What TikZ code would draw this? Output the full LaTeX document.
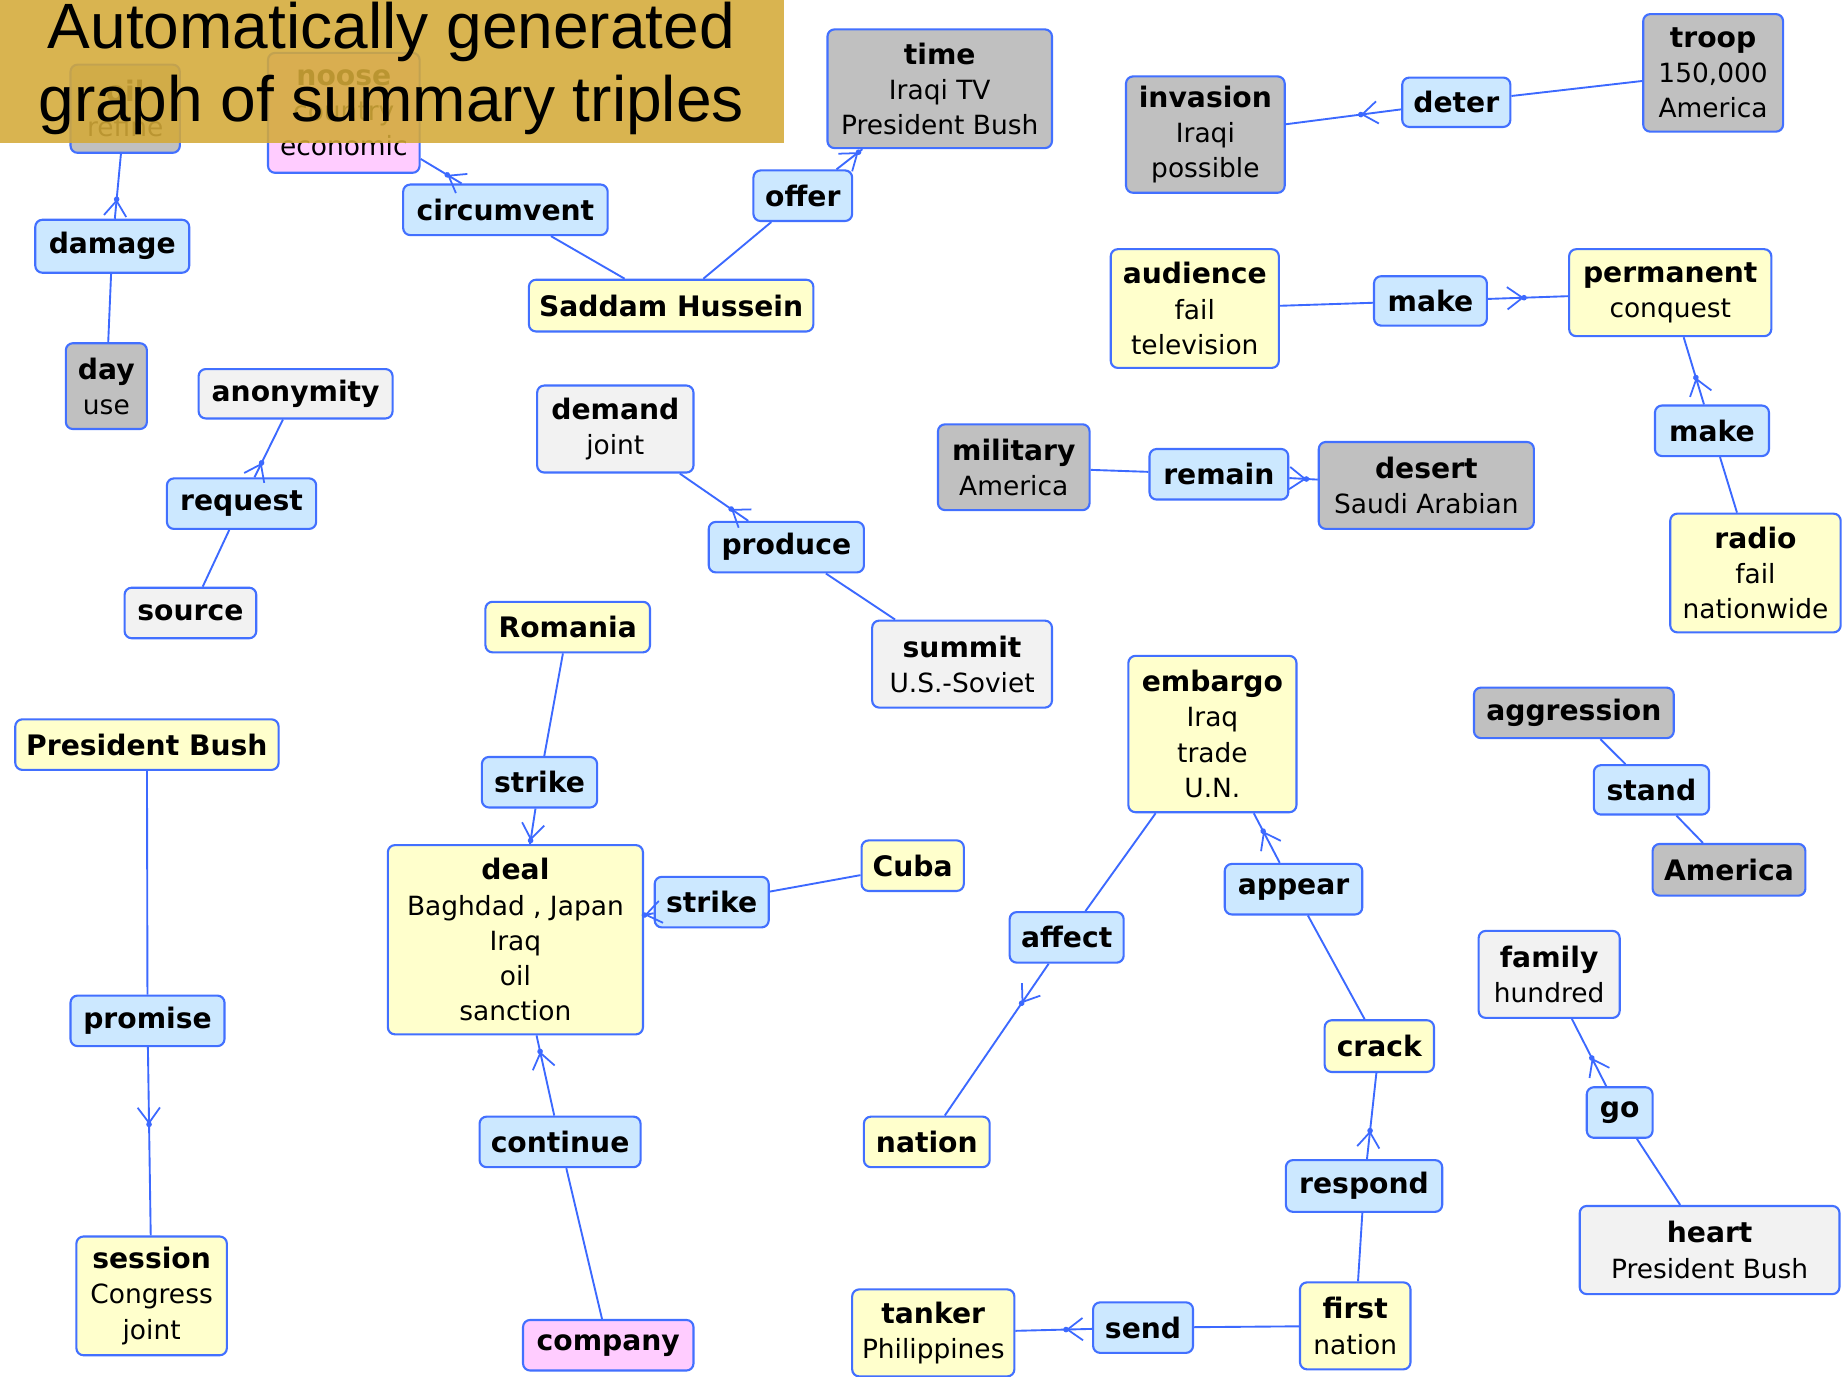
\documentclass[tikz,border=0pt]{standalone}
\usepackage{fontspec}
\setmainfont{DejaVu Sans}
\newfontfamily\titlefont{Liberation Sans}
\usetikzlibrary{arrows.meta,decorations.markings}

\definecolor{edgeblue}{RGB}{66,112,255}
\definecolor{linkblue}{RGB}{60,105,255}
\definecolor{predfill}{RGB}{204,232,255}
\definecolor{yellowfill}{RGB}{255,255,204}
\definecolor{grayfill}{RGB}{192,192,192}
\definecolor{lightfill}{RGB}{242,242,242}
\definecolor{pinkfill}{RGB}{255,204,255}
\definecolor{titlegold}{RGB}{212,170,56}

% first (head) line of a node is set bold and slightly larger
\newcommand\hd[1]{{\fontsize{24}{30}\selectfont\bfseries #1}}

\tikzset{
  box/.style={draw=edgeblue, line width=1.8pt, rounded corners=6pt, align=center,
    inner sep=0pt, font=\fontsize{22.5}{30}\selectfont},
  predbox/.style={box, fill=predfill},
  entbox/.style={box, fill=yellowfill},
  greybox/.style={box, fill=grayfill},
  palebox/.style={box, fill=lightfill},
  pinkbox/.style={box, fill=pinkfill},
  sz/.style 2 args={minimum width=#1pt, minimum height=#2pt},
  link/.style={draw=linkblue, line width=1.6pt},
  arrowat/.style={postaction=decorate, decoration={markings,
    mark=at position #1 with {\arrow[linkblue]{Straight Barb[length=13pt,width=19pt,line width=1.5pt]}%
      \fill[linkblue] (0,0) circle (2.4pt);}}}
}

\begin{document}
\begin{tikzpicture}[x=1pt, y=-1pt]
\useasboundingbox (0,0) rectangle (1568,1171);
\fill[white] (0,0) rectangle (1568,1171);

% ---- nodes ----
\node[greybox, sz={93}{75}]   (oil)        at (106.5,92.5)  {\hd{oil}\\refine};
\node[pinkbox, sz={129}{102}] (noose)      at (292.5,96)    {\hd{noose}\\country\\economic};
\node[predbox, sz={131}{45}]  (damage)     at (95.5,209.5)  {\hd{damage}};
\node[greybox, sz={69}{73}]   (day)        at (90.5,328.5)  {\hd{day}\\use};
\node[predbox, sz={174}{43}]  (circumvent) at (430,178.5)   {\hd{circumvent}};
\node[predbox, sz={84}{43}]   (offer)      at (683,166.5)   {\hd{offer}};
\node[greybox, sz={191}{101}] (time)       at (799.5,75.5)  {\hd{time}\\Iraqi TV\\President Bush};
\node[entbox,  sz={242}{44}]  (saddam)     at (571,260)     {\hd{Saddam Hussein}};
\node[greybox, sz={135}{99}]  (invasion)   at (1025.5,114.5){\hd{invasion}\\Iraqi\\possible};
\node[predbox, sz={92}{42}]   (deter)      at (1239,87)     {\hd{deter}};
\node[greybox, sz={119}{100}] (troop)      at (1457.5,62)   {\hd{troop}\\150,000\\America};
\node[entbox,  sz={143}{101}] (audience)   at (1016.5,262.5){\hd{audience}\\fail\\television};
\node[predbox, sz={96}{42}]   (makeA)      at (1217,256)    {\hd{make}};
\node[entbox,  sz={172}{74}]  (permanent)  at (1421,249)    {\hd{permanent}\\conquest};
\node[predbox, sz={97}{43}]   (makeB)      at (1456.5,366.5){\hd{make}};
\node[entbox,  sz={145}{101}] (radio)      at (1493.5,487.5){\hd{radio}\\fail\\nationwide};
\node[palebox, sz={165}{42}]  (anonymity)  at (251.5,335)   {\hd{anonymity}};
\node[predbox, sz={127}{43}]  (request)    at (205.5,428.5) {\hd{request}};
\node[palebox, sz={112}{43}]  (source)     at (162,521.5)   {\hd{source}};
\node[palebox, sz={133}{74}]  (demand)     at (523.5,365)   {\hd{demand}\\joint};
\node[predbox, sz={132}{43}]  (produce)    at (669,465.5)   {\hd{produce}};
\node[palebox, sz={153}{74}]  (summit)     at (818.5,565)   {\hd{summit}\\U.S.-Soviet};
\node[greybox, sz={129}{73}]  (military)   at (862.5,397.5) {\hd{military}\\America};
\node[predbox, sz={118}{43}]  (remain)     at (1037,403.5)  {\hd{remain}};
\node[greybox, sz={183}{74}]  (desert)     at (1213.5,413)  {\hd{desert}\\Saudi Arabian};
\node[entbox,  sz={140}{43}]  (romania)    at (483,533.5)   {\hd{Romania}};
\node[predbox, sz={98}{43}]   (strikeA)    at (459,665.5)   {\hd{strike}};
\node[entbox,  sz={217}{161}] (deal)       at (438.5,799.5) {\hd{deal}\\Baghdad , Japan\\Iraq\\oil\\sanction};
\node[predbox, sz={97}{43}]   (strikeB)    at (605.5,767.5) {\hd{strike}};
\node[entbox,  sz={87}{43}]   (cuba)       at (776.5,736.5) {\hd{Cuba}};
\node[predbox, sz={137}{43}]  (continue)   at (476.5,971.5) {\hd{continue}};
\node[pinkbox, sz={145}{43}]  (company)    at (517.5,1144.5){\hd{company}};
\node[entbox,  sz={224}{43}]  (presbush)   at (125,633.5)   {\hd{President Bush}};
\node[predbox, sz={131}{43}]  (promise)    at (125.5,868.5) {\hd{promise}};
\node[entbox,  sz={128}{101}] (session)    at (129,1102.5)  {\hd{session}\\Congress\\joint};
\node[entbox,  sz={143}{133}] (embargo)    at (1031.5,624.5){\hd{embargo}\\Iraq\\trade\\U.N.};
\node[predbox, sz={97}{43}]   (affect)     at (907.5,797.5) {\hd{affect}};
\node[entbox,  sz={107}{43}]  (nation)     at (788.5,971.5) {\hd{nation}};
\node[predbox, sz={117}{43}]  (appear)     at (1100.5,756.5){\hd{appear}};
\node[entbox,  sz={93}{44}]   (crack)      at (1173.5,890)  {\hd{crack}};
\node[predbox, sz={133}{44}]  (respond)    at (1160.5,1009) {\hd{respond}};
\node[entbox,  sz={94}{74}]   (first)      at (1153,1128)   {\hd{first}\\nation};
\node[predbox, sz={85}{43}]   (send)       at (972.5,1129.5){\hd{send}};
\node[entbox,  sz={138}{74}]  (tanker)     at (794,1134)    {\hd{tanker}\\Philippines};
\node[greybox, sz={170}{43}]  (aggression) at (1339,606.5)  {\hd{aggression}};
\node[predbox, sz={98}{42}]   (stand)      at (1405,672)    {\hd{stand}};
\node[greybox, sz={130}{44}]  (america)    at (1471,740)    {\hd{America}};
\node[palebox, sz={120}{74}]  (family)     at (1318,829)    {\hd{family}\\hundred};
\node[predbox, sz={56}{43}]   (go)         at (1378,946.5)  {\hd{go}};
\node[palebox, sz={221}{75}]  (heart)      at (1454.5,1063.5){\hd{heart}\\President Bush};

% ---- subject -- predicate -> object ----
\draw[link] (day) -- (damage);
\draw[link, arrowat=0.3] (damage) -- (oil);
\draw[link] (saddam) -- (circumvent);
\draw[link, arrowat=0.35] (circumvent) -- (noose);
\draw[link] (saddam) -- (offer);
\draw[link, arrowat=0.85] (offer) -- (time);
\draw[link] (troop) -- (deter);
\draw[link, arrowat=0.35] (deter) -- (invasion);
\draw[link] (audience) -- (makeA);
\draw[link, arrowat=0.45] (makeA) -- (permanent);
\draw[link] (radio) -- (makeB);
\draw[link, arrowat=0.4] (makeB) -- (permanent);
\draw[link] (source) -- (request);
\draw[link, arrowat=0.25] (request) -- (anonymity);
\draw[link] (summit) -- (produce);
\draw[link, arrowat=0.25] (produce) -- (demand);
\draw[link] (military) -- (remain);
\draw[link, arrowat=0.6] (remain) -- (desert);
\draw[link] (romania) -- (strikeA);
\draw[link, arrowat=0.9] (strikeA) -- (deal);
\draw[link] (cuba) -- (strikeB);
\draw[link, arrowat=0.95] (strikeB) -- (deal);
\draw[link] (company) -- (continue);
\draw[link, arrowat=0.8] (continue) -- (deal);
\draw[link] (presbush) -- (promise);
\draw[link, arrowat=0.41] (promise) -- (session);
\draw[link] (embargo) -- (affect);
\draw[link, arrowat=0.26] (affect) -- (nation);
\draw[link] (crack) -- (appear);
\draw[link, arrowat=0.64] (appear) -- (embargo);
\draw[link] (first) -- (respond);
\draw[link, arrowat=0.33] (respond) -- (crack);
\draw[link] (first) -- (send);
\draw[link, arrowat=0.34] (send) -- (tanker);
\draw[link] (aggression) -- (stand);
\draw[link] (stand) -- (america);
\draw[link] (heart) -- (go);
\draw[link, arrowat=0.42] (go) -- (family);

% ---- title banner ----
\fill[titlegold, fill opacity=0.88] (0,0) rectangle (667,122);
\node[font=\titlefont\fontsize{54.5}{60}\selectfont, anchor=base, inner sep=0pt] (titleA) at (333,41) {Automatically generated};
\node[font=\titlefont\fontsize{54.5}{60}\selectfont, anchor=base, inner sep=0pt] (titleB) at (333,103) {graph of summary triples};
\end{tikzpicture}
\end{document}
